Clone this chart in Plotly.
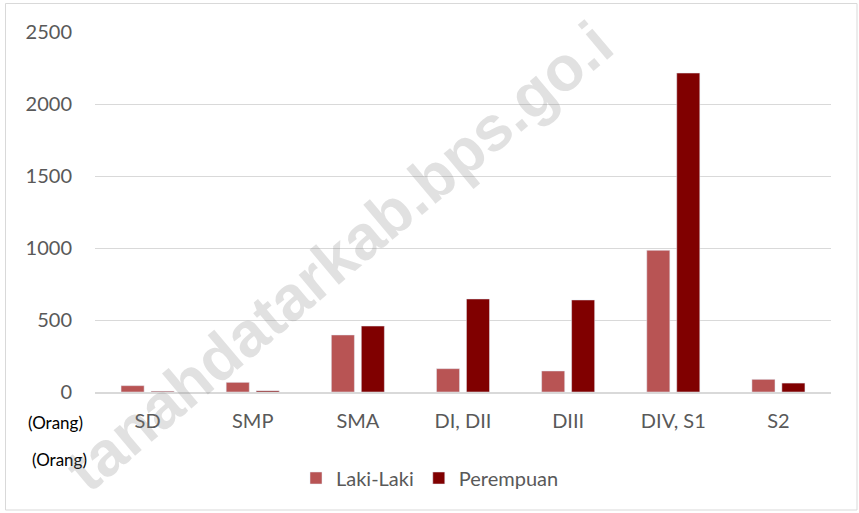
import plotly.graph_objects as go

categories = ["SD", "SMP", "SMA", "DI, DII", "DIII", "DIV, S1", "S2"]
laki = [44, 67, 396, 162, 146, 984, 88]
perempuan = [5, 8, 458, 646, 639, 2215, 62]
y_ticks = [0, 500, 1000, 1500, 2000, 2500]

W, H = 859, 513
L, R, T, B = 95, 28, 32, 121
pw, ph = W - L - R, H - T - B

def px(x):
    return (x - L) / pw

def py(y):
    return (H - B - y) / ph

font_family = "Lato, 'Open Sans', sans-serif"
txt = "#595959"

fig = go.Figure()
fig.add_trace(go.Bar(name="Laki-Laki", x=categories, y=laki, marker_color="#B85454"))
fig.add_trace(go.Bar(name="Perempuan", x=categories, y=perempuan, marker_color="#800000"))

fig.update_layout(
    width=W, height=H,
    margin=dict(l=L, r=R, t=T, b=B, autoexpand=False),
    paper_bgcolor="white", plot_bgcolor="white",
    barmode="group", bargap=0.43, bargroupgap=0.23,
    font=dict(family=font_family, size=20, color=txt),
    legend=dict(orientation="h", x=px(430), xanchor="center", y=py(478), yanchor="middle",
                font=dict(size=20, color=txt), traceorder="normal"),
    showlegend=True,
)
fig.update_yaxes(range=[0, 2500], tickvals=y_ticks, showgrid=True, gridcolor="#D9D9D9",
                 gridwidth=1, zeroline=False, showline=False, ticks="", ticklabelstandoff=22,
                 tickfont=dict(size=20, color=txt), automargin=False)
fig.update_xaxes(showline=True, linecolor="#D9D9D9", linewidth=1.5, ticks="",
                 ticklabelstandoff=10, tickfont=dict(size=20, color=txt), automargin=False)

for xx, yy in ((55, 423), (59.5, 459)):
    fig.add_annotation(text="(Orang)", xref="paper", yref="paper", x=px(xx),
                       y=py(yy), showarrow=False, xanchor="center", yanchor="middle",
                       font=dict(size=17, color="#000000", family=font_family))

# watermark
fig.add_annotation(text="tanahdatarkab.bps.go.i", xref="paper", yref="paper",
                   x=px(339), y=py(256), showarrow=False, textangle=-40,
                   xanchor="center", yanchor="middle",
                   font=dict(size=63, color="rgba(128,128,128,0.24)",
                             family="'Liberation Sans', Arial, sans-serif", weight="bold"))

# chart border
fig.add_shape(type="rect", xref="paper", yref="paper", x0=px(5.5), x1=px(857), y0=py(510), y1=py(3.5),
              line=dict(color="#D9D9D9", width=1), layer="below")

fig.write_html("out.html", config={"displayModeBar": False},
               post_script="document.body.style.margin='0';")
